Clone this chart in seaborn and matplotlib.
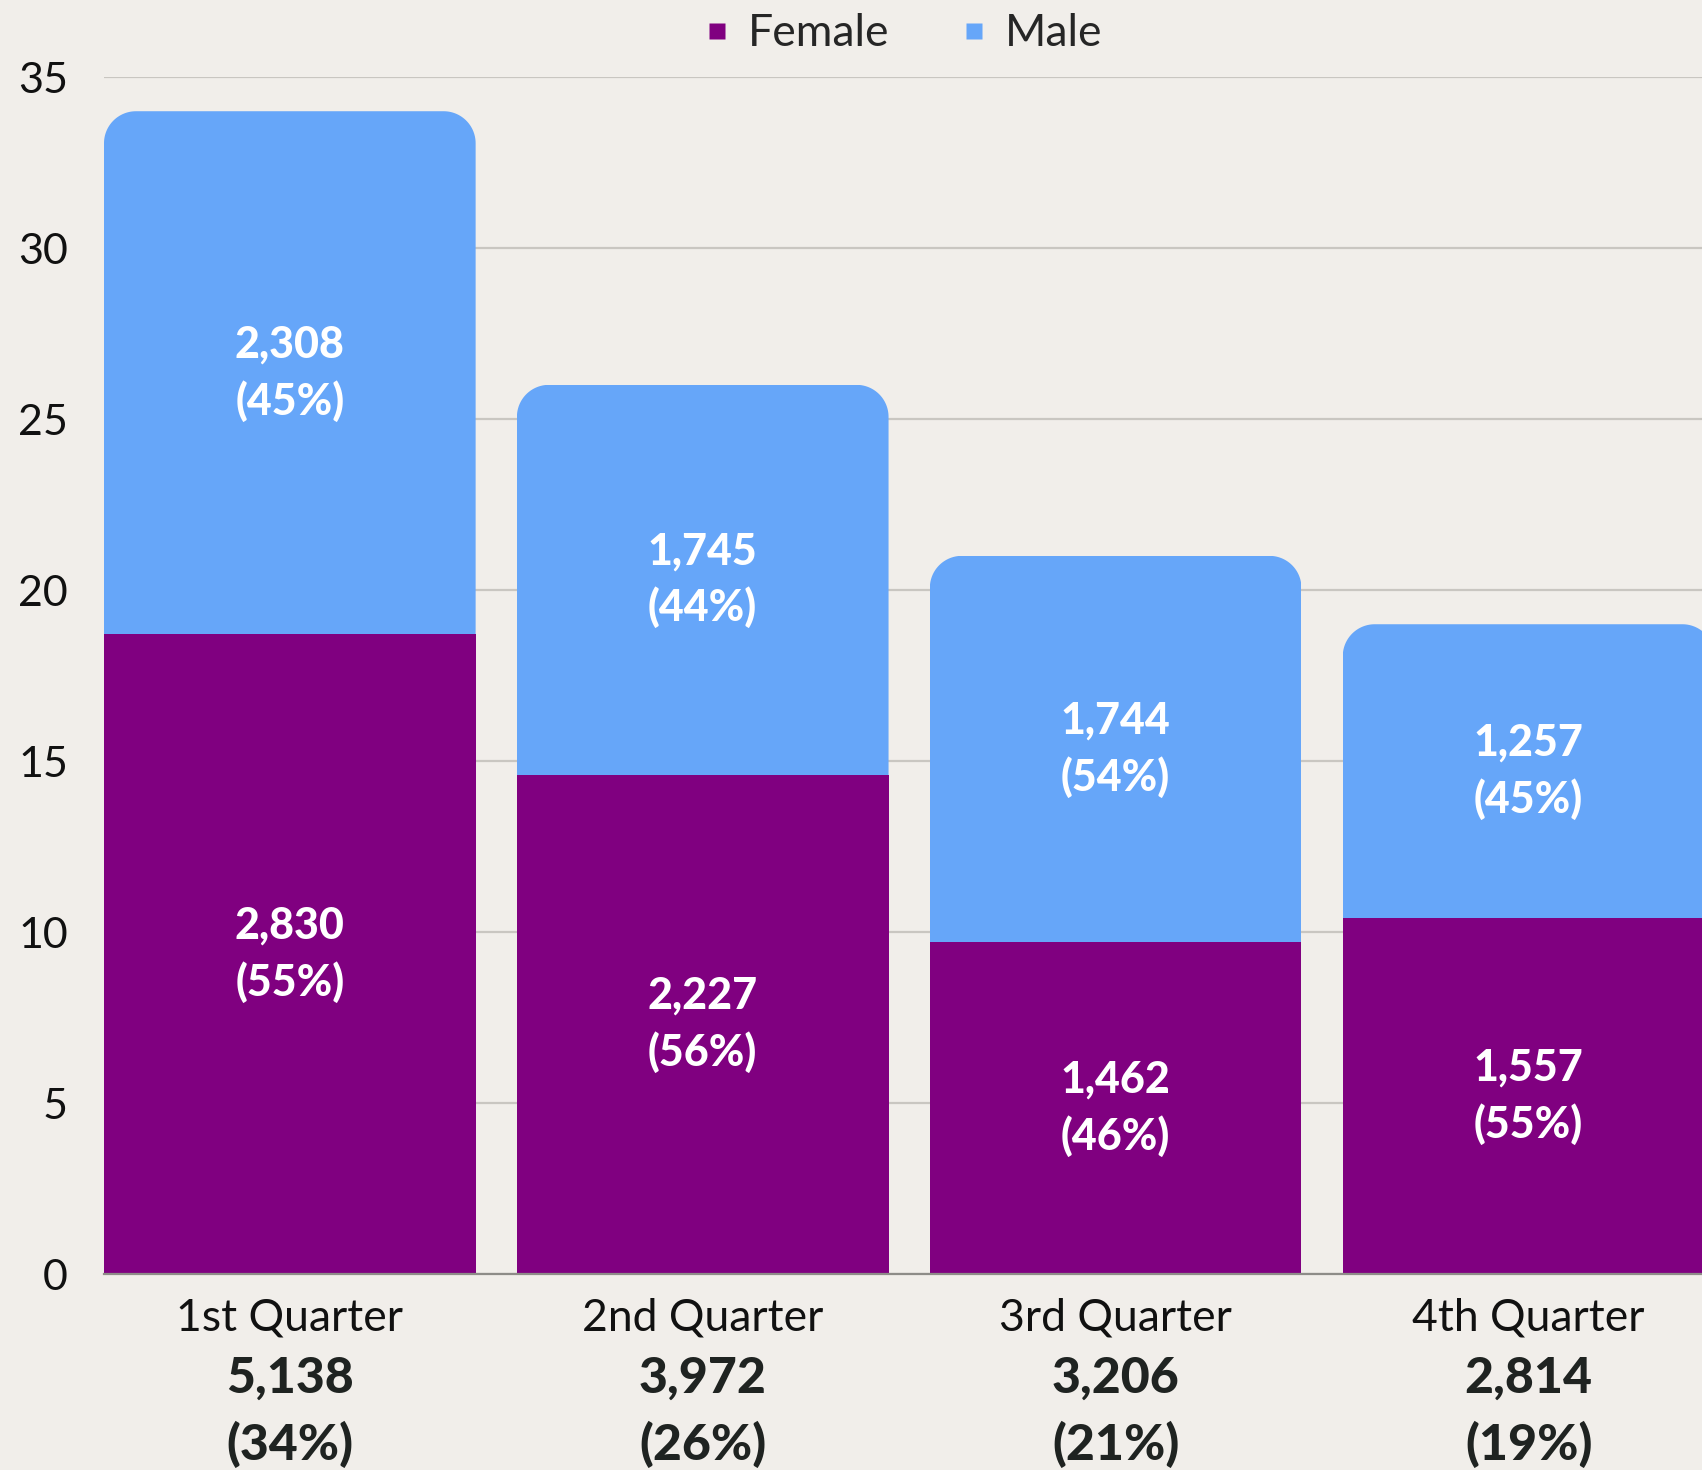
import numpy as np
import pandas as pd
import seaborn as sns
import matplotlib
matplotlib.use("Agg")
import matplotlib.pyplot as plt
from matplotlib.patches import PathPatch
from matplotlib.path import Path
from matplotlib.lines import Line2D

# ---- data ----
quarters = ["1st Quarter", "2nd Quarter", "3rd Quarter", "4th Quarter"]
female_height = [18.7, 14.6, 9.7, 10.4]
male_height = [15.3, 11.4, 11.3, 8.6]
female_counts = ["2,830", "2,227", "1,462", "1,557"]
male_counts = ["2,308", "1,745", "1,744", "1,257"]
female_pct = ["55%", "56%", "46%", "55%"]
male_pct = ["45%", "44%", "54%", "45%"]
total_counts = ["5,138", "3,972", "3,206", "2,814"]
total_pct = ["34%", "26%", "21%", "19%"]

BG = "#F1EEEA"
PURPLE = "#800080"
BLUE = "#66A6F9"
FONT = ["Lato", "DejaVu Sans"]

sns.set_theme(style="white")
plt.rcParams["font.family"] = FONT

df = pd.DataFrame({
    "quarter": quarters,
    "female": female_height,
    "male": male_height,
})
df["total"] = df["female"] + df["male"]

fig = plt.figure(figsize=(17.02, 14.7), dpi=100, facecolor=BG)
ax = fig.add_axes([104 / 1702, 0.1333, 1 - 104 / 1702, 0.9476 - 0.1333])
ax.set_facecolor(BG)

sns.barplot(data=df, x="quarter", y="total", color=BLUE, saturation=1,
            width=0.9, ax=ax, zorder=2, linewidth=0)
n_total = len(ax.patches)
sns.barplot(data=df, x="quarter", y="female", color=PURPLE, saturation=1,
            width=0.9, ax=ax, zorder=3, linewidth=0)

ax.set_xlim(-0.45, 3.42)
ax.set_ylim(0, 35)

# rounded top corners (circular in pixel space) for the stacked bars
fig.canvas.draw()
px_per_x = ax.transData.transform((1, 0))[0] - ax.transData.transform((0, 0))[0]
px_per_y = ax.transData.transform((0, 1))[1] - ax.transData.transform((0, 0))[1]
radius_px = 32
rx = radius_px / px_per_x
ry = radius_px / px_per_y
for p in ax.patches[:n_total]:
    x0 = p.get_x()
    x1 = x0 + p.get_width()
    top = p.get_height()
    t = np.linspace(0, np.pi / 2, 30)
    left_arc = np.column_stack([x0 + rx - rx * np.cos(t), top - ry + ry * np.sin(t)])
    right_arc = np.column_stack([x1 - rx + rx * np.sin(t), top - ry + ry * np.cos(t)])
    verts = np.vstack([[[x0, -5]], left_arc, right_arc, [[x1, -5]], [[x0, -5]]])
    codes = [Path.MOVETO] + [Path.LINETO] * (len(verts) - 2) + [Path.CLOSEPOLY]
    clip = PathPatch(Path(verts, codes), transform=ax.transData,
                     facecolor="none", edgecolor="none")
    p.set_clip_path(clip)

# grid and spines
ax.set_yticks(range(0, 36, 5))
ax.yaxis.grid(True, color="#C9C6C1", linewidth=1.6, zorder=0)
ax.set_axisbelow(True)
for s in ["top", "right", "left"]:
    ax.spines[s].set_visible(False)
ax.spines["bottom"].set_color("#8E8C88")
ax.spines["bottom"].set_linewidth(1.6)
ax.spines["bottom"].set_zorder(4)
ax.tick_params(axis="y", length=0, pad=26, labelsize=31, labelcolor="#111111")
ax.tick_params(axis="x", length=0)
ax.set_xticks(range(4))
ax.set_xticklabels([])
ax.set_xlabel("")
ax.set_ylabel("")

# in-bar labels
for i in range(4):
    fm = female_height[i] / 2
    mm = female_height[i] + male_height[i] / 2
    ax.text(i, fm, f"{female_counts[i]}\n({female_pct[i]})", ha="center", va="center",
            color="white", fontsize=31, fontweight="black", linespacing=1.45, zorder=5)
    ax.text(i, mm, f"{male_counts[i]}\n({male_pct[i]})", ha="center", va="center",
            color="white", fontsize=31, fontweight="black", linespacing=1.45, zorder=5)

# category labels below axis
for i in range(4):
    ax.annotate(quarters[i], xy=(i, 0), xycoords=("data", "axes fraction"),
                xytext=(0, -32), textcoords="offset points", ha="center", va="center",
                fontsize=32, color="#111111", annotation_clip=False)
    ax.annotate(total_counts[i], xy=(i, 0), xycoords=("data", "axes fraction"),
                xytext=(0, -75), textcoords="offset points", ha="center", va="center",
                fontsize=36, fontweight="black", color="#1F2321", annotation_clip=False)
    ax.annotate(f"({total_pct[i]})", xy=(i, 0), xycoords=("data", "axes fraction"),
                xytext=(0, -123), textcoords="offset points", ha="center", va="center",
                fontsize=36, fontweight="black", color="#1F2321", annotation_clip=False)

# legend
handles = [Line2D([], [], marker="s", linestyle="none", markersize=12,
                  markerfacecolor=PURPLE, markeredgecolor="none", label="Female"),
           Line2D([], [], marker="s", linestyle="none", markersize=12,
                  markerfacecolor=BLUE, markeredgecolor="none", label="Male")]
fig.legend(handles=handles, loc="center", bbox_to_anchor=(903 / 1702, 1 - 34 / 1470),
           ncol=2, frameon=False, fontsize=32, handlelength=0.6, handletextpad=0.4,
           columnspacing=1.6, borderaxespad=0)

fig.savefig("out.png", dpi=100, facecolor=BG)
